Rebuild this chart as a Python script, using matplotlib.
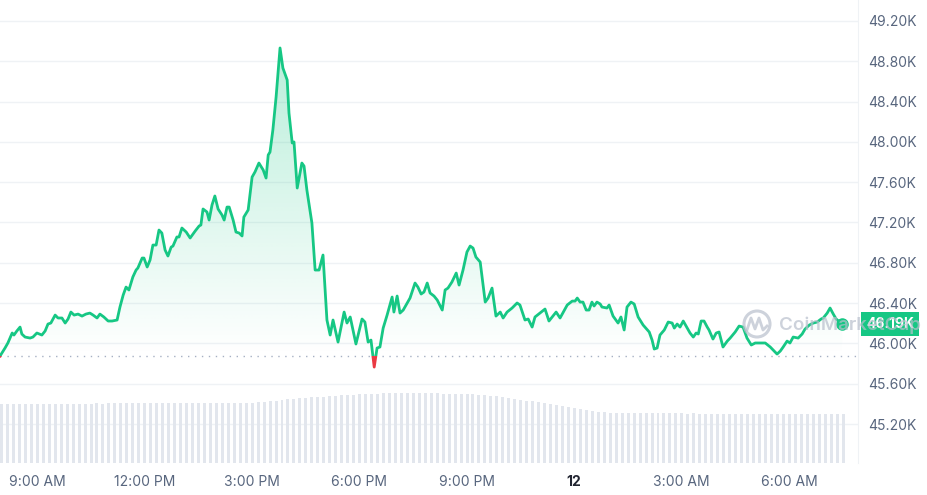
import numpy as np
import matplotlib.pyplot as plt
from matplotlib.patches import Rectangle, Ellipse
from matplotlib.lines import Line2D

plt.rcParams['font.family'] = ['Inter', 'DejaVu Sans']

# price trace: hours since midnight of day 1, price in USD
times = [7.97, 8.11, 8.19, 8.31, 8.36, 8.44, 8.53, 8.58, 8.67, 8.81,
         8.89, 9.00, 9.14, 9.23, 9.31, 9.39, 9.51, 9.59, 9.70, 9.79,
         9.87, 9.95, 10.04, 10.15, 10.26, 10.37, 10.48, 10.57, 10.68, 10.76,
         10.87, 10.99, 11.10, 11.24, 11.32, 11.41, 11.49, 11.57, 11.68, 11.77,
         11.82, 11.94, 11.99, 12.08, 12.16, 12.24, 12.33, 12.41, 12.49, 12.58,
         12.66, 12.75, 12.80, 12.91, 12.97, 13.05, 13.17, 13.28, 13.42, 13.53,
         13.58, 13.64, 13.75, 13.81, 13.89, 13.97, 14.06, 14.17, 14.23, 14.31,
         14.37, 14.48, 14.56, 14.65, 14.73, 14.78, 14.90, 15.01, 15.09, 15.20,
         15.32, 15.40, 15.46, 15.51, 15.59, 15.68, 15.79, 15.87, 15.99, 16.04,
         16.13, 16.18, 16.27, 16.40, 16.46, 16.54, 16.68, 16.77, 16.88, 16.99,
         17.10, 17.19, 17.27, 17.41, 17.58, 17.66, 17.75, 17.91, 18.08, 18.16,
         18.25, 18.33, 18.42, 18.50, 18.58, 18.67, 18.78, 18.92, 18.97, 19.06,
         19.14, 19.23, 19.42, 19.56, 19.64, 19.73, 19.81, 19.90, 19.98, 20.09,
         20.18, 20.32, 20.40, 20.48, 20.59, 20.71, 20.79, 20.90, 21.01, 21.10,
         21.18, 21.26, 21.38, 21.52, 21.60, 21.71, 21.82, 21.94, 22.02, 22.13,
         22.27, 22.41, 22.49, 22.63, 22.72, 22.83, 22.91, 23.05, 23.19, 23.30,
         23.50, 23.61, 23.81, 23.95, 24.03, 24.09, 24.17, 24.25, 24.34, 24.42,
         24.50, 24.56, 24.64, 24.73, 24.78, 24.92, 24.98, 25.09, 25.23, 25.31,
         25.40, 25.48, 25.59, 25.68, 25.79, 25.93, 26.10, 26.18, 26.24, 26.32,
         26.40, 26.52, 26.63, 26.74, 26.80, 26.88, 26.96, 27.05, 27.16, 27.24,
         27.33, 27.41, 27.47, 27.55, 27.63, 27.72, 27.77, 27.88, 27.97, 28.05,
         28.16, 28.28, 28.36, 28.50, 28.61, 28.72, 28.83, 28.95, 29.06, 29.20,
         29.34, 29.48, 29.56, 29.67, 29.76, 29.84, 29.95, 30.03, 30.12, 30.26,
         30.37, 30.45, 30.57, 30.68, 30.79, 30.90, 30.96, 31.07, 31.15, 31.24,
         31.32, 31.49]

prices = [45874, 45954, 46004, 46103, 46083, 46123, 46162, 46093, 46063, 46053,
          46063, 46103, 46083, 46123, 46192, 46202, 46281, 46252, 46252, 46202,
          46242, 46311, 46281, 46291, 46271, 46291, 46301, 46281, 46252, 46291,
          46262, 46222, 46222, 46232, 46361, 46480, 46559, 46530, 46659, 46728,
          46748, 46847, 46847, 46758, 46827, 46976, 46976, 47125, 47095, 46927,
          46867, 46956, 46966, 47056, 47056, 47145, 47105, 47046, 47115, 47165,
          47175, 47334, 47304, 47224, 47373, 47463, 47334, 47274, 47224, 47353,
          47353, 47224, 47105, 47095, 47066, 47254, 47324, 47651, 47701, 47790,
          47721, 47641, 47870, 47899, 48118, 48445, 48932, 48733, 48614, 48286,
          47989, 47999, 47542, 47790, 47760, 47522, 47195, 46728, 46728, 46877,
          46232, 46083, 46232, 46013, 46311, 46202, 46262, 45994, 46242, 46212,
          46013, 46033, 45765, 45954, 45964, 46152, 46281, 46460, 46311, 46470,
          46301, 46331, 46450, 46599, 46559, 46490, 46510, 46599, 46500, 46470,
          46430, 46331, 46530, 46549, 46609, 46698, 46579, 46728, 46907, 46966,
          46946, 46857, 46807, 46410, 46450, 46549, 46271, 46311, 46252, 46311,
          46351, 46401, 46381, 46232, 46242, 46162, 46262, 46301, 46341, 46222,
          46311, 46252, 46381, 46420, 46420, 46450, 46410, 46410, 46331, 46331,
          46410, 46371, 46410, 46391, 46361, 46351, 46381, 46271, 46202, 46262,
          46133, 46361, 46410, 46391, 46262, 46182, 46113, 46033, 45944, 45954,
          46083, 46133, 46212, 46202, 46152, 46192, 46162, 46222, 46152, 46103,
          46063, 46103, 46093, 46222, 46222, 46162, 46133, 46043, 46103, 46113,
          45964, 46023, 46053, 46113, 46172, 46162, 46053, 45984, 46004, 46004,
          46004, 45964, 45934, 45894, 45924, 45964, 46023, 46004, 46063, 46053,
          46093, 46142, 46182, 46202, 46212, 46242, 46252, 46301, 46351, 46291,
          46242, 46190]

# 24h volume (billions USD), one bar every 10 minutes from 7.97h
vol_start = 7.97
vol_step = 1 / 6
volumes = [29.4, 29.5, 29.4, 29.5, 29.5, 29.4,
           29.5, 29.6, 29.5, 29.6, 29.6, 29.5,
           29.6, 29.7, 29.6, 29.7, 29.8, 29.7,
           29.8, 29.8, 29.9, 29.8, 29.9, 29.9,
           30.0, 29.9, 30.0, 30.1, 30.0, 30.0,
           30.1, 30.0, 30.1, 30.1, 30.0, 29.9,
           29.9, 29.8, 29.8, 29.9, 29.8, 29.9,
           30.1, 30.3, 30.6, 30.9, 31.2, 31.5,
           31.8, 32.1, 32.4, 32.6, 32.8, 33.0,
           33.2, 33.4, 33.6, 33.8, 34.0, 34.2,
           34.3, 34.5, 34.6, 34.7, 34.8, 34.9,
           35.0, 35.0, 34.9, 35.0, 34.9, 34.9,
           34.8, 34.8, 34.7, 34.7, 34.6, 34.6,
           34.5, 34.4, 34.2, 34.0, 33.7, 33.4,
           33.0, 32.6, 32.1, 31.7, 31.2, 30.8,
           30.3, 29.8, 29.3, 28.8, 28.3, 27.8,
           27.3, 26.8, 26.3, 25.9, 25.6, 25.4,
           25.2, 25.1, 25.0, 25.0, 24.9, 24.9,
           24.9, 24.8, 24.9, 24.8, 24.8, 24.8,
           24.8, 24.7, 24.8, 24.7, 24.7, 24.7,
           24.7, 24.6, 24.7, 24.6, 24.6, 24.6,
           24.6, 24.5, 24.6, 24.5, 24.5, 24.5,
           24.5, 24.4, 24.5, 24.4, 24.4, 24.4,
           24.4, 24.3, 24.3, 24.3]

x_ticks = [9, 12, 15, 18, 21, 24, 27, 30]
x_labels = ['9:00 AM', '12:00 PM', '3:00 PM', '6:00 PM', '9:00 PM', '12', '3:00 AM', '6:00 AM']
y_ticks = [45200, 45600, 46000, 46400, 46800, 47200, 47600, 48000, 48400, 48800, 49200]

GREEN = '#16c784'
RED = '#ea3943'
GRID = '#eff2f5'
LABEL = '#58667e'

t = np.array(times)
p = np.array(prices, dtype=float)
base = p[0]

W, H = 928, 495
fig = plt.figure(figsize=(W / 100, H / 100), dpi=100)
ax = fig.add_axes([0, 32 / H, 858 / W, 463 / H])
ax.set_xlim(7.97, 31.93)
ax.set_ylim(44813, 49408)

# volume bars on a hidden twin axis
vax = ax.twinx()
vax.set_ylim(0, 231.5)
vol_x = vol_start + vol_step * np.arange(len(volumes))
vax.bar(vol_x, volumes, width=vol_step * 0.5, color='#e2e6ed', lw=0, align='edge')
vax.axis('off')

# gradient fill between line and opening price
fill = ax.fill_between(t, np.maximum(p, base), base, color='none', lw=0)
grad = np.zeros((256, 2, 4))
rgb = np.array([0x16, 0xc7, 0x84]) / 255
grad[:, :, :3] = rgb
grad[:, :, 3] = np.linspace(0.0, 0.30, 256)[:, None]
im = ax.imshow(grad, extent=[t[0], t[-1], base, p.max()], origin='lower',
               aspect='auto', zorder=1, interpolation='bilinear')
im.set_clip_path(fill.get_paths()[0], transform=ax.transData)

# line: green above the open, red below
for col, lo, hi in [(GREEN, base, 60000), (RED, 40000, base)]:
    ln, = ax.plot(t, p, color=col, lw=2.0, zorder=3, solid_joinstyle='round')
    clip = Rectangle((0, lo), 100, hi - lo, transform=ax.transData)
    ln.set_clip_path(clip)

ax.axhline(base, color='#a6b0c3', lw=1, ls=(0, (1, 4)), zorder=2)
ax.plot(t[-1], p[-1], 'o', ms=8, color=GREEN, zorder=4, clip_on=False)

# axes styling
ax.grid(axis='y', color=GRID, lw=1)
ax.set_axisbelow(True)
for s in ['top', 'left', 'bottom']:
    ax.spines[s].set_visible(False)
ax.spines['right'].set_color(GRID)
ax.yaxis.tick_right()
ax.set_yticks(y_ticks)
ax.set_yticklabels([f'{v / 1000:.2f}K' for v in y_ticks])
ax.tick_params(axis='y', length=0, pad=7, labelsize=10, labelcolor=LABEL)
ax.set_xticks(x_ticks)
ax.set_xticklabels(x_labels)
ax.tick_params(axis='x', length=0, pad=9, labelsize=10, labelcolor=LABEL)
for lbl in ax.get_xticklabels():
    if lbl.get_text() == '12':
        lbl.set_fontweight('bold')
        lbl.set_color('#222531')

# current price tag
ax.annotate(f'{p[-1] / 1000:.2f}K', xy=(1.0, p[-1]), xycoords=('axes fraction', 'data'),
            xytext=(6, 0), textcoords='offset points', ha='left', va='center',
            color='white', fontsize=10, fontweight='bold', zorder=5,
            bbox=dict(boxstyle='square,pad=0.35', fc=GREEN, ec='none'), annotation_clip=False)

# watermark
fig.add_artist(Ellipse((757 / W, 1 - 324 / H), 26 / W, 26 / H, fill=False,
                       ec='#b8bfcc', lw=2.2, alpha=0.7, transform=fig.transFigure))
mx = np.array([747, 751, 755, 759, 763, 767]) / W
my = 1 - np.array([330, 318, 329, 318, 330, 326]) / H
fig.add_artist(Line2D(mx, my, color='#b8bfcc', lw=2, alpha=0.7, transform=fig.transFigure))
fig.text(779 / W, 1 - 325 / H, 'CoinMarketCap', fontsize=13.5, fontweight='semibold',
         color='#b8bfcc', alpha=0.7, va='center', ha='left')

fig.savefig('out.png', dpi=100)
